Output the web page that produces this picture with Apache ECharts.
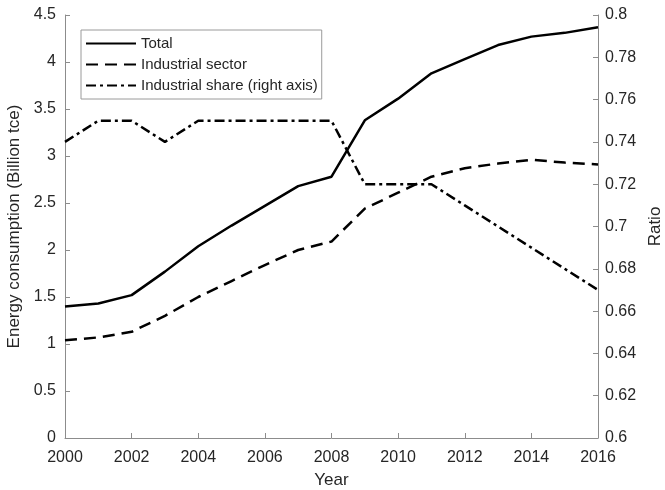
<!DOCTYPE html>
<html><head><meta charset="utf-8">
<script src="https://cdn.jsdelivr.net/npm/echarts@6/dist/echarts.min.js"></script>
<style>html,body{margin:0;padding:0;background:#fff}#c{width:665px;height:490px}</style>
</head><body><div id="c"></div>
<script>
const years = [2000,2001,2002,2003,2004,2005,2006,2007,2008,2009,2010,2011,2012,2013,2014,2015,2016];
const total = [1.40,1.43,1.52,1.77,2.04,2.26,2.47,2.68,2.78,3.38,3.61,3.88,4.03,4.18,4.27,4.31,4.37];
const industrial = [1.04,1.07,1.13,1.30,1.50,1.67,1.84,2.00,2.09,2.44,2.61,2.78,2.87,2.92,2.96,2.93,2.91];
const share = [0.74,0.75,0.75,0.74,0.75,0.75,0.75,0.75,0.75,0.72,0.72,0.72,0.71,0.70,0.69,0.68,0.67];

const font = 'Liberation Sans, Arial, sans-serif';
const axisCol = '#8c8c8c';
const txt = '#262626';
const pair = arr => years.map((y,i)=>[y,arr[i]]);

const chart = echarts.init(document.getElementById('c'), null, {renderer:'canvas'});
chart.setOption({
  animation:false,
  backgroundColor:'#fff',
  grid:{left:65,right:67,top:15,bottom:52,containLabel:false,outerBoundsMode:'none'},
  legend:{
    left:81, top:30, orient:'vertical',
    itemWidth:50, itemHeight:14, itemGap:6,
    padding:[6,4,6,4],
    borderColor:'#9a9a9a', borderWidth:1,
    itemStyle:{opacity:0},
    textStyle:{fontFamily:font,fontSize:15,color:txt},
    data:['Total','Industrial sector','Industrial share (right axis)']
  },
  xAxis:{
    type:'value', min:2000, max:2016, interval:2,
    name:'Year', nameLocation:'middle', nameGap:34,
    nameTextStyle:{fontFamily:font,fontSize:17,color:txt},
    axisLine:{lineStyle:{color:axisCol}},
    axisTick:{inside:true,length:5,lineStyle:{color:axisCol}},
    axisLabel:{fontFamily:font,fontSize:16,color:txt,margin:12,formatter:v=>String(v)},
    splitLine:{show:false}
  },
  yAxis:[{
    type:'value', min:0, max:4.5, interval:0.5,
    name:'Energy consumption (Billion tce)', nameLocation:'middle', nameGap:32,
    nameTextStyle:{fontFamily:font,fontSize:17,color:txt},
    axisLine:{show:true,lineStyle:{color:axisCol}},
    axisTick:{show:true,inside:true,length:5,lineStyle:{color:axisCol}},
    axisLabel:{fontFamily:font,fontSize:16,color:txt,margin:9},
    splitLine:{show:false}
  },{
    type:'value', min:0.6, max:0.8, interval:0.02, position:'right',
    name:'Ratio', nameLocation:'middle', nameGap:48,
    nameTextStyle:{fontFamily:font,fontSize:17,color:txt},
    axisLine:{show:true,lineStyle:{color:axisCol}},
    axisTick:{show:true,inside:true,length:5,lineStyle:{color:axisCol}},
    axisLabel:{fontFamily:font,fontSize:16,color:txt,margin:7,formatter:v=>String(+v.toFixed(2))},
    splitLine:{show:false}
  }],
  series:[
    {name:'Total',type:'line',data:pair(total),symbol:'none',
     lineStyle:{color:'#000',width:2.5,type:'solid'},itemStyle:{color:'#000'}},
    {name:'Industrial sector',type:'line',data:pair(industrial),symbol:'none',
     lineStyle:{color:'#000',width:2.5,type:[12,7]},itemStyle:{color:'#000'}},
    {name:'Industrial share (right axis)',type:'line',yAxisIndex:1,data:pair(share),symbol:'none',
     lineStyle:{color:'#000',width:2.5,type:[10,4,3,4]},itemStyle:{color:'#000'}}
  ]
});
</script></body></html>
